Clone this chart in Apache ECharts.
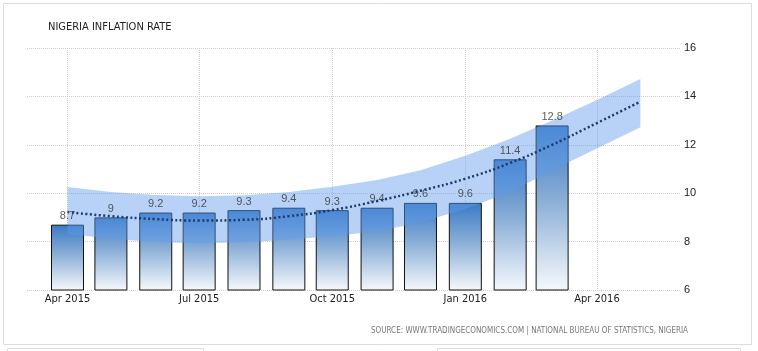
<!DOCTYPE html>
<html>
<head>
<meta charset="utf-8">
<script src="https://cdn.jsdelivr.net/npm/echarts/dist/echarts.min.js"></script>
<style>
  html, body { margin: 0; padding: 0; background: #fff; }
  #main { width: 758px; height: 351px; }
</style>
</head>
<body>
<div id="main"></div>
<script>
// monthly readings, Apr 2015 .. Mar 2016
var barMonths = ['2015-04-01', '2015-05-01', '2015-06-01', '2015-07-01', '2015-08-01', '2015-09-01',
                 '2015-10-01', '2015-11-01', '2015-12-01', '2016-01-01', '2016-02-01', '2016-03-01'];
var inflation = [8.7, 9, 9.2, 9.2, 9.3, 9.4, 9.3, 9.4, 9.6, 9.6, 11.4, 12.8];

// trend line + band, Apr 2015 .. May 2016
var trendMonths = ['2015-04-01', '2015-05-01', '2015-06-01', '2015-07-01', '2015-08-01', '2015-09-01',
                   '2015-10-01', '2015-11-01', '2015-12-01', '2016-01-01', '2016-02-01', '2016-03-01',
                   '2016-04-01', '2016-05-01'];
var trend     = [9.22, 9.05, 8.93, 8.87, 8.9, 9.05, 9.3, 9.68, 10.1, 10.6, 11.25, 12.0, 12.9, 13.78];
var bandUpper = [10.26, 10.05, 9.93, 9.87, 9.92, 10.05, 10.27, 10.55, 10.95, 11.55, 12.25, 13.0, 13.85, 14.72];
var bandLower = [8.32, 8.12, 7.98, 7.93, 7.97, 8.08, 8.23, 8.42, 8.8, 9.35, 10.05, 10.95, 11.85, 12.73];

var xTickMonths = ['2015-04-01', '2015-07-01', '2015-10-01', '2016-01-01', '2016-04-01'];
var monthNames = ['Jan', 'Feb', 'Mar', 'Apr', 'May', 'Jun', 'Jul', 'Aug', 'Sep', 'Oct', 'Nov', 'Dec'];

// x axis is in days counted from 1 Apr 2015
var DAY = 86400000;
var base = Date.UTC(2015, 3, 1);
function day(s) {
    var p = s.split('-');
    return Math.round((Date.UTC(+p[0], +p[1] - 1, +p[2]) - base) / DAY);
}

var chart = echarts.init(document.getElementById('main'));

// band drawn as one polygon: upper edge forward, lower edge back
function renderBand(params, api) {
    if (params.dataIndex !== 0) return null;
    var pts = [];
    for (var i = 0; i < trendMonths.length; i++) {
        pts.push(api.coord([day(trendMonths[i]), bandUpper[i]]));
    }
    for (var j = trendMonths.length - 1; j >= 0; j--) {
        pts.push(api.coord([day(trendMonths[j]), bandLower[j]]));
    }
    return {
        type: 'polygon',
        shape: { points: pts },
        style: { fill: 'rgba(95,155,235,0.45)' }
    };
}

var barData = barMonths.map(function (m, i) { return [day(m), inflation[i]]; });

var option = {
    animation: false,
    title: {
        text: 'NIGERIA INFLATION RATE',
        left: 43, top: 17,
        textStyle: { fontSize: 11, fontWeight: 'normal', color: '#222', fontFamily: 'DejaVu Sans Condensed' }
    },
    grid: { left: 27, right: 78, top: 48, bottom: 61 },
    xAxis: {
        type: 'value',
        min: -28,
        max: 423.4,
        axisLine: { show: false },
        axisTick: { show: false, customValues: xTickMonths.map(day) },
        axisLabel: {
            customValues: xTickMonths.map(day),
            margin: 4,
            color: '#222',
            fontSize: 11,
            fontFamily: 'DejaVu Sans Condensed',
            formatter: function (v) {
                var d = new Date(base + v * DAY);
                return monthNames[d.getUTCMonth()] + ' ' + d.getUTCFullYear();
            }
        },
        splitLine: { show: true, lineStyle: { color: '#cfcfcf', type: 'dotted' } }
    },
    yAxis: {
        type: 'value',
        position: 'right',
        min: 6, max: 16, interval: 2,
        axisLine: { show: false },
        axisTick: { show: false },
        axisLabel: { margin: 4, color: '#222', fontSize: 11, fontFamily: 'Liberation Sans' },
        splitLine: { lineStyle: { color: '#cfcfcf', type: 'dotted' } }
    },
    series: [
        {
            type: 'bar',
            barWidth: 33,
            z: 2,
            data: barData,
            itemStyle: {
                borderColor: '#111',
                borderWidth: 1,
                color: new echarts.graphic.LinearGradient(0, 0, 0, 1, [
                    { offset: 0, color: '#3a7ac6' },
                    { offset: 0.45, color: '#8aaed6' },
                    { offset: 1, color: '#f6f9fc' }
                ])
            }
        },
        {
            type: 'custom',
            z: 3,
            renderItem: renderBand,
            data: trendMonths.map(function (m, i) { return [day(m), bandUpper[i], bandLower[i]]; }),
            encode: { x: 0, y: [1, 2] }
        },
        {
            // value labels above the band, under the trend line
            type: 'scatter',
            z: 4,
            symbolSize: 0,
            silent: true,
            data: barData,
            label: {
                show: true, position: 'top', distance: 3,
                color: '#333', fontSize: 11, fontFamily: 'Liberation Sans',
                formatter: function (p) { return p.value[1]; }
            }
        },
        {
            type: 'line',
            symbol: 'none',
            smooth: true,
            z: 5,
            lineStyle: { color: '#1c3a6b', width: 2.5, type: [2, 2.5] },
            data: trendMonths.map(function (m, i) { return [day(m), trend[i]]; })
        }
    ],
    graphic: [
        {
            type: 'rect', z: -1, silent: true,
            shape: { x: 3.5, y: 3.5, width: 748, height: 341 },
            style: { fill: 'none', stroke: '#dcdcdc', lineWidth: 1 }
        },
        {
            type: 'rect', z: -1, silent: true,
            shape: { x: 7.5, y: 348.5, width: 196, height: 10 },
            style: { fill: 'none', stroke: '#dcdcdc', lineWidth: 1 }
        },
        {
            type: 'rect', z: -1, silent: true,
            shape: { x: 437.5, y: 348.5, width: 303, height: 10 },
            style: { fill: 'none', stroke: '#dcdcdc', lineWidth: 1 }
        },
        {
            type: 'text', silent: true,
            style: {
                text: 'SOURCE: WWW.TRADINGECONOMICS.COM | NATIONAL BUREAU OF STATISTICS, NIGERIA',
                x: 688, y: 331, align: 'right', verticalAlign: 'middle',
                fontSize: 8, fontFamily: 'Liberation Sans Narrow, DejaVu Sans Condensed', fill: '#777'
            }
        }
    ]
};

chart.setOption(option);
</script>
</body>
</html>
